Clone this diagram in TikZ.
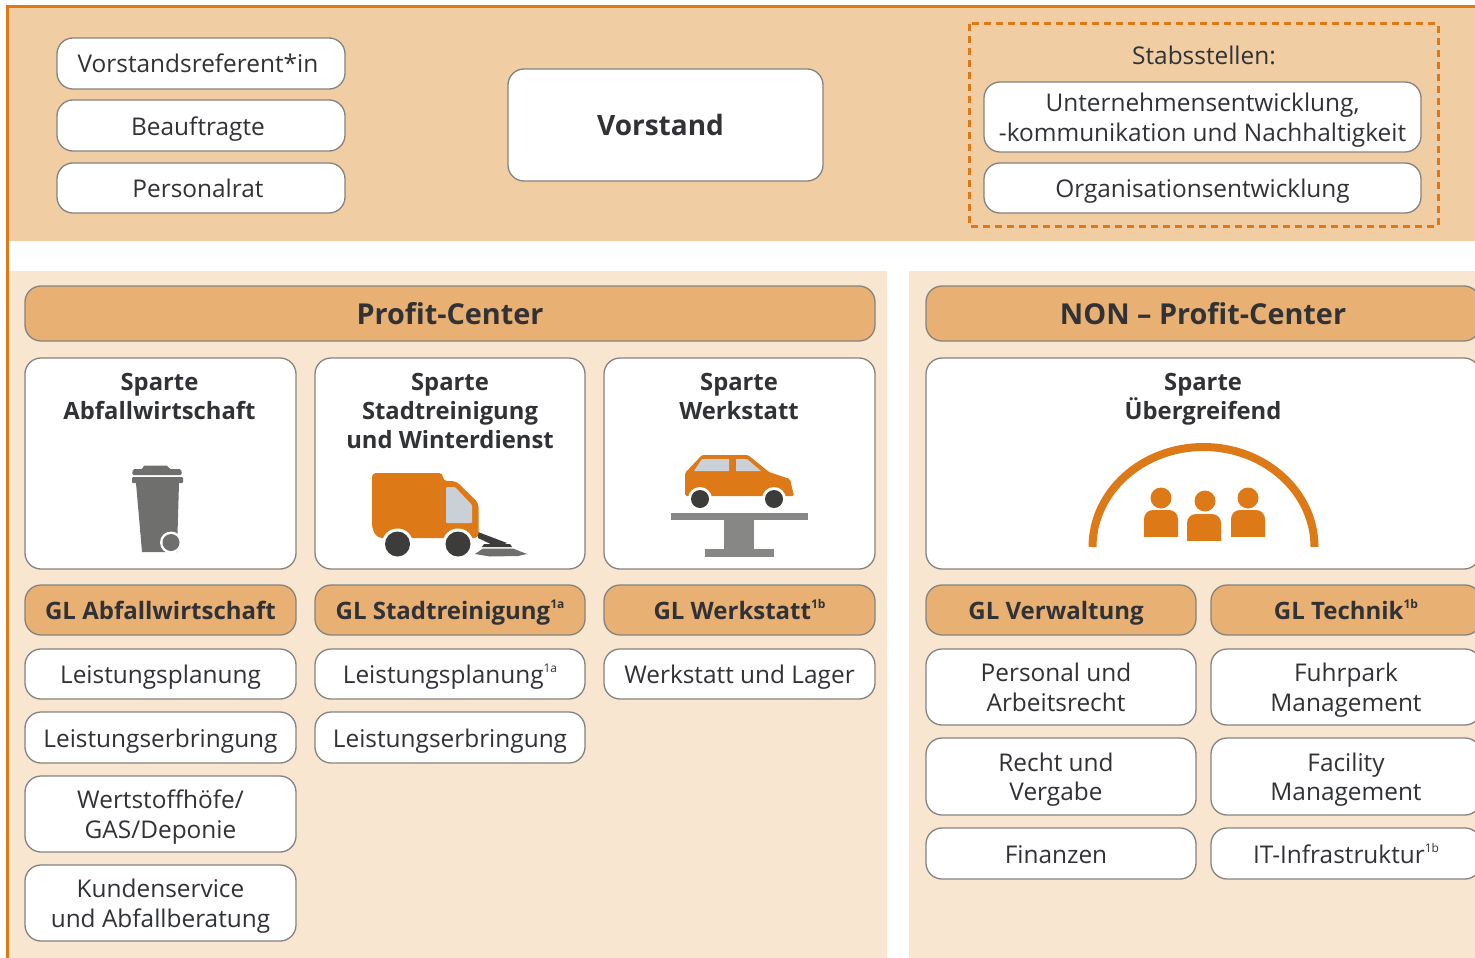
\documentclass[tikz,border=0pt]{standalone}
\usepackage{fontspec}
\setmainfont{Open Sans}
\definecolor{bandc}{HTML}{F0CDA2}
\definecolor{panelc}{HTML}{F8E6D1}
\definecolor{headc}{HTML}{E8B072}
\definecolor{orangec}{HTML}{DD7A17}
\definecolor{edgec}{HTML}{85837F}
\definecolor{textc}{HTML}{303236}
\definecolor{greyc}{HTML}{6F6F6E}
\definecolor{liftc}{HTML}{878786}
\definecolor{wheelc}{HTML}{3C3C3B}
\definecolor{glassc}{HTML}{C9D0D8}
\newcommand{\bx}[7][]{\node[#7,#1,minimum width={(#4-#2)*1pt},minimum height={(#5-#3)*1pt}] at ({(#2+#4)/2},{(#3+#5)/2})}
\newcommand{\sups}[1]{\raisebox{0.45em}{\fontsize{12}{12}\selectfont #1}}
\newcommand{\ls}{\rule[-7.5pt]{0pt}{34pt}}
\newcommand{\rsa}{\hspace*{6pt}}
\newcommand{\rsb}{\hspace*{10pt}}
\newcommand{\plainfont}{\fontsize{24.4}{29.6}\selectfont\setlength{\lineskiplimit}{-20pt}}
\tikzset{
 base/.style={draw=edgec,line width=1.3pt,rounded corners=16pt,align=center,inner sep=0pt,outer sep=0pt,text=textc},
 plainbox/.style={base,fill=white,font=\plainfont},
 glbox/.style={base,fill=headc,font=\fontsize{24}{29}\selectfont\bfseries},
 headbox/.style={base,fill=headc,font=\fontsize{28.8}{32}\selectfont\bfseries},
 spartebox/.style={base,fill=white},
 spartetext/.style={anchor=north,align=center,inner sep=0pt,text=textc,font=\fontsize{23.8}{29}\selectfont\bfseries},
}
\begin{document}
\begin{tikzpicture}[x=1pt,y=-1pt]
\useasboundingbox (0,0) rectangle (1475,958);
\clip (0,0) rectangle (1475,958);
\fill[white] (0,0) rectangle (1475,958);
\fill[bandc] (8,7) rectangle (1475,241);
\fill[panelc] (8,271) rectangle (887,958);
\fill[panelc] (909,271) rectangle (1475,958);
\draw[orangec,line width=2.5pt] (7.5,958) -- (7.5,6.5) -- (1475,6.5);
% top
\bx{57}{38}{345}{89}{}{plainbox} (a1) {\ls Vorstandsreferent*in\rsa};
\bx{57}{100}{345}{151}{}{plainbox} (a2) {\ls Beauftragte\rsa};
\bx{57}{163}{345}{213}{}{plainbox} (a3) {\ls Personalrat\rsa};
\bx{508}{69}{823}{181}{}{base,fill=white,font=\fontsize{28}{32}\selectfont\bfseries} (v) {Vorstand\rsb};
\draw[orangec,line width=3pt,dash pattern=on 7pt off 5pt] (969,24) rectangle (1438,226);
\node[text=textc,inner sep=0pt,font=\fontsize{24.4}{29}\selectfont] (st) at (1204,55) {Stabsstellen:};
\bx{984}{82}{1421}{152}{}{plainbox} (s1) {\ls Unternehmensentwicklung,\\\ls -kommunikation und Nachhaltigkeit};
\bx{984}{163}{1421}{213}{}{plainbox} (s2) {\ls Organisationsentwicklung};
% headers
\bx{25}{286}{875}{341}{}{headbox} (h1) {Profit-Center};
\bx{926}{286}{1480}{341}{}{headbox} (h2) {NON – Profit-Center};
% sparten
\bx{25}{358}{296}{569}{}{spartebox} (p1) {};
\bx{315}{358}{585}{569}{}{spartebox} (p2) {};
\bx{604}{358}{875}{569}{}{spartebox} (p3) {};
\bx{926}{358}{1480}{569}{}{spartebox} (p4) {};
\node[spartetext] (t1) at (159.5,373) {Sparte\\Abfallwirtschaft};
\node[spartetext] (t2) at (450,373) {Sparte\\Stadtreinigung\\und Winterdienst};
\node[spartetext] (t3) at (739,373) {Sparte\\Werkstatt};
\node[spartetext] (t4) at (1203,373) {Sparte\\Übergreifend};
% GL
\bx{25}{585}{296}{635}{}{glbox} (g1) {\ls GL Abfallwirtschaft};
\bx{315}{585}{585}{635}{}{glbox} (g2) {\ls GL Stadtreinigung\sups{1a}};
\bx{604}{585}{875}{635}{}{glbox} (g3) {\ls GL Werkstatt\sups{1b}};
\bx{926}{585}{1196}{635}{}{glbox} (g4) {\ls GL Verwaltung\rsb};
\bx{1211}{585}{1481}{635}{}{glbox} (g5) {\ls GL Technik\sups{1b}};
% column 1
\bx{25}{649}{296}{699}{}{plainbox} (c1) {\ls Leistungsplanung};
\bx{25}{712}{296}{763}{}{plainbox} (c2) {\ls Leistungserbringung};
\bx{25}{776}{296}{852}{}{plainbox} (c3) {\ls Wertstoffhöfe/\\\ls GAS/Deponie};
\bx{25}{865}{296}{941}{}{plainbox} (c4) {\ls Kundenservice\\\ls und Abfallberatung};
% column 2
\bx{315}{649}{585}{699}{}{plainbox} (d1) {\ls Leistungsplanung\sups{1a}};
\bx{315}{712}{585}{763}{}{plainbox} (d2) {\ls Leistungserbringung};
% column 3
\bx{604}{649}{875}{699}{}{plainbox} (e1) {\ls Werkstatt und Lager};
% column 4
\bx{926}{649}{1196}{725}{}{plainbox} (f1) {\ls Personal und\rsb\\\ls Arbeitsrecht\rsb};
\bx{926}{738}{1196}{815}{}{plainbox} (f2) {\ls Recht und\rsb\\\ls Vergabe\rsb};
\bx{926}{828}{1196}{879}{}{plainbox} (f3) {\ls Finanzen\rsb};
% column 5
\bx{1211}{649}{1481}{725}{}{plainbox} (k1) {\ls Fuhrpark\\\ls Management};
\bx{1211}{738}{1481}{815}{}{plainbox} (k2) {\ls Facility\\\ls Management};
\bx{1211}{828}{1481}{879}{}{plainbox} (k3) {\ls IT-Infrastruktur\sups{1b}};
% bin
\fill[greyc,rounded corners=1.5pt] (143,465.5) -- (168,465.5) -- (169,469) -- (181,469) -- (182,475) -- (132,475) -- (133,469) -- (143,469) -- cycle;
\fill[greyc,rounded corners=1pt] (132,477) rectangle (183,483);
\fill[greyc] (136,483) -- (179,483) -- (177,552) -- (142,552) -- cycle;
\fill[white] (171,542.5) circle (11);
\fill[greyc] (171,542.5) circle (8.5);
% sweeper
\fill[wheelc] (478,532) -- (507,543) -- (497,547) -- (478,538) -- cycle;
\fill[wheelc] (484,544) -- (510,544) -- (512,547) -- (482,547) -- cycle;
\fill[greyc] (483,548.5) -- (513,548.5) -- (527,554) -- (518,556) -- (490,556.5) -- (475,554) -- cycle;
\fill[orangec,rounded corners=4pt] (443,538) -- (378,538) to[rounded corners=6pt] (372,530) -- (372,473) -- (443,473) -- (443,481) -- (456,481) -- (478.5,503) -- (478.5,538) -- cycle;
\fill[glassc,rounded corners=1pt] (446,487) -- (455,487) -- (472,505) -- (472,523) -- (446,523) -- cycle;
\foreach \cx in {397.5,458}{
 \fill[white] (\cx,544) circle (15.5);
 \fill[wheelc] (\cx,544) circle (12.5);
}
% car
\fill[orangec,rounded corners=1.5pt] (685,496) -- (685,473) -- (702,455) -- (748,455) -- (769,472) -- (790,479) -- (794,496) -- cycle;
\fill[glassc] (694,471) -- (702,459) -- (729,459) -- (729,471) -- cycle;
\fill[glassc] (736,459) -- (747,459) -- (761,471) -- (736,471) -- cycle;
\foreach \cx in {700,774}{
 \fill[white] (\cx,499) circle (12);
 \fill[wheelc] (\cx,499) circle (9);
}
\fill[liftc] (671,513) rectangle (808,520);
\fill[liftc] (724,520) rectangle (754,549);
\fill[liftc] (705,549) rectangle (774,557);
% dome
\draw[orangec,line width=8pt] (1092.5,547) arc[start angle=180,end angle=360,x radius=111,y radius=100];
\foreach \hx/\hy in {1161/498,1205/501,1248/498}{
 \fill[orangec] (\hx,\hy) ellipse (10.5 and 10.5);
}
\foreach \bxa/\bya/\byb in {1144/510/537,1187/514/541,1231/510/537}{
 \fill[orangec,rounded corners=9pt] (\bxa,\byb+9) -- (\bxa,\bya) -- (\bxa+34,\bya) -- (\bxa+34,\byb+9) -- cycle;
 \fill[white] (\bxa-1,\byb) rectangle (\bxa+35,\byb+10);
}
\end{tikzpicture}
\end{document}
